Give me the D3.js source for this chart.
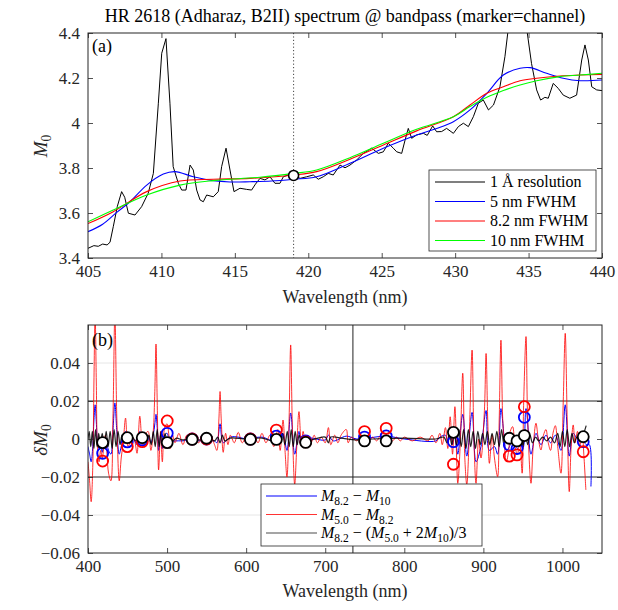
<!DOCTYPE html>
<html><head><meta charset="utf-8">
<script src="https://cdn.jsdelivr.net/npm/d3@7"></script>
<style>body{margin:0;background:#fff}</style></head>
<body><svg id="c" width="618" height="610"></svg>
<script>
// ---------- DATA: panel (a) ----------
const specRaw = [[405.0,3.443],[405.4,3.455],[405.7,3.452],[406.0,3.462],[406.3,3.458],[406.5,3.47],[406.72,3.539],[407.0,3.63],[407.29,3.695],[407.5,3.67],[407.75,3.599],[408.2,3.591],[408.65,3.628],[409.1,3.688],[409.45,3.776],[409.79,4.088],[410.02,4.31],[410.31,4.375],[410.58,4.088],[410.8,3.806],[411.15,3.732],[411.38,3.702],[411.67,3.702],[411.95,3.813],[412.17,3.791],[412.4,3.702],[412.63,3.658],[412.85,3.65],[413.08,3.68],[413.53,3.672],[413.87,3.695],[414.1,3.806],[414.4,3.888],[414.67,3.791],[414.94,3.695],[415.35,3.71],[415.8,3.705],[416.14,3.702],[416.4,3.728],[416.71,3.754],[417.05,3.747],[417.39,3.761],[417.73,3.732],[418.07,3.732],[418.3,3.761],[418.64,3.769],[418.98,3.769],[419.44,3.754],[419.89,3.761],[420.34,3.769],[420.68,3.75],[421.02,3.761],[421.36,3.776],[421.7,3.769],[422.16,3.813],[422.5,3.801],[422.84,3.813],[423.3,3.836],[423.75,3.865],[424.32,3.888],[424.77,3.865],[425.11,3.872],[425.45,3.91],[425.79,3.888],[426.02,3.872],[426.36,3.865],[426.59,3.924],[426.81,3.976],[427.04,3.932],[427.38,3.947],[427.84,3.954],[428.1,3.945],[428.47,3.987],[428.74,3.961],[429.08,3.962],[429.42,3.976],[429.88,3.954],[430.22,3.984],[430.56,3.999],[430.9,3.984],[431.24,4.028],[431.58,4.088],[431.92,4.102],[432.27,4.058],[432.61,4.08],[433.05,4.161],[433.39,4.295],[433.62,4.42],[434.2,4.62],[434.87,4.42],[435.2,4.265],[435.55,4.147],[435.82,4.102],[436.11,4.114],[436.34,4.11],[436.68,4.176],[437.02,4.154],[437.36,4.124],[437.81,4.11],[438.27,4.124],[438.62,4.28],[438.84,4.347],[439.07,4.28],[439.3,4.161],[439.64,4.147],[440.0,4.144]];
const fwhm5 = [[405,3.517],[406,3.55],[407,3.605],[407.86,3.65],[409.0,3.724],[410.13,3.773],[410.93,3.784],[412.17,3.761],[413.53,3.744],[414.67,3.738],[416.03,3.739],[417.5,3.742],[419,3.75],[420.57,3.761],[422.84,3.821],[425.11,3.888],[427.38,3.947],[428.74,3.976],[429.88,4.006],[431.01,4.058],[432.16,4.132],[433.28,4.213],[434.42,4.243],[435.1,4.246],[436.23,4.221],[437.36,4.199],[438.5,4.188],[440,4.191]];
const fwhm82 = [[405,3.553],[406.72,3.606],[409.0,3.695],[411.26,3.742],[413.53,3.75],[416.03,3.754],[419,3.769],[420.57,3.784],[422.84,3.839],[425.11,3.902],[427.38,3.965],[429.88,4.028],[431.01,4.08],[432.16,4.132],[433.28,4.161],[434.42,4.188],[435.55,4.199],[437.13,4.209],[438.5,4.213],[440,4.216]];
const fwhm10 = [[405,3.561],[406.72,3.613],[409,3.68],[411.26,3.724],[413.53,3.744],[416.71,3.759],[419,3.776],[420.57,3.791],[422.84,3.846],[425.11,3.91],[427.38,3.972],[429.88,4.028],[431.01,4.073],[432.16,4.114],[433.28,4.144],[434.42,4.169],[435.55,4.188],[437.13,4.206],[438.5,4.213],[440,4.221]];
const markerA = [[419,3.767]];
const legendA = ["1 Å resolution","5 nm FWHM","8.2 nm FWHM","10 nm FWHM"];
const colorsA = ["#000000","#0000ff","#ff0000","#00ff00"];
const xTicksA = [405,410,415,420,425,430,435,440];
const yTicksA = [3.4,3.6,3.8,4.0,4.2,4.4];

// ---------- DATA: panel (b) ----------
const redDiff = [[400,-0.012],[402,-0.022],[404,-0.033],[406,-0.015],[407.5,0.03],[409,0.066],[410.5,0.03],[412,-0.005],[414,-0.012],[416,-0.006],[418,-0.01],[420,-0.004],[422,0.002],[424,-0.008],[426,-0.018],[429,-0.022],[431.5,0.01],[434,0.066],[436.5,0.01],[439.5,-0.022],[442,-0.01],[444.5,-0.002],[447.5,0.011],[450.5,-0.004],[453,-0.002],[456,0.001],[459,-0.001],[462,-0.0075],[465.5,0.012],[469,-0.004],[472,0.002],[476,0.004],[479.5,-0.006],[482.5,0.004],[484.5,0.025],[486,0.05],[487.5,0.02],[489.3,-0.0163],[491.8,0.004],[494,-0.012],[497,0.006],[500,0.008],[502,0.003],[504,-0.005],[507,0.002],[510,-0.002],[515,0.003],[520,-0.003],[525,0.002],[530,-0.001],[535,0.002],[540,-0.002],[545,0.002],[550,-0.001],[555,0.002],[560,-0.003],[563,-0.006],[565.5,0.01],[567,0.025],[568.5,0.01],[571,-0.007],[574,0.003],[577,-0.003],[580,0.002],[585,-0.002],[590,0.0035],[595,-0.002],[600,0.001],[605,-0.001],[610,0.002],[615,-0.002],[620,0.003],[625,-0.002],[630,0.002],[635,-0.004],[640,0.005],[643,-0.006],[646.6,0.01],[649,-0.005],[651.6,-0.02],[654,0.005],[656.3,0.0495],[658.5,0.005],[661.4,-0.024],[664,-0.004],[666.8,0.0144],[669.8,-0.0035],[672,0.004],[675,-0.002],[678,0.002],[682,-0.002],[686,0.002],[690,-0.002],[695,0.001],[700,-0.002],[704,0.006],[707,-0.003],[712,0.002],[716,-0.002],[720,0.002],[726.6,0.005],[729,-0.002],[733,0.001],[740,-0.001],[745,0.002],[750,0.001],[755,-0.001],[760,0.001],[765,-0.001],[770,0.002],[775,0.003],[780,0.001],[785,-0.001],[790,0.001],[795,-0.001],[800,0.001],[810,-0.001],[820,0.001],[830,-0.001],[835,0.002],[840,-0.002],[845,0.003],[848,-0.003],[852,0.006],[855,-0.005],[858,0.0117],[861,-0.008],[864,0.017],[867.6,-0.0233],[870.5,-0.005],[873.9,0.0346],[876.5,-0.01],[879,-0.024],[882,0.0],[885.7,0.0468],[888,0.0],[890.7,-0.0233],[894,0.0],[897,-0.01],[901.3,0.015],[903.4,0.045],[905.5,0.01],[907.6,-0.0128],[911,0.002],[914,-0.01],[918,-0.0198],[920,0.01],[922.2,0.052],[924.5,0.01],[926.5,-0.0023],[929,-0.012],[932,-0.006],[934,0.004],[937,0.0065],[940,-0.004],[943,-0.008],[946,-0.002],[949,-0.018],[951,0.02],[953.9,0.0539],[956,0.01],[960.2,-0.0233],[963,-0.004],[966.5,0.0083],[969.5,0.0],[972.8,-0.0058],[976,0.002],[979.1,0.005],[982,-0.002],[985,-0.006],[988,0.003],[991,0.007],[994,-0.004],[998.1,-0.018],[1001,0.02],[1003.5,0.0556],[1006,0.01],[1008.6,-0.0277],[1011,-0.004],[1013.6,0.0074],[1016,-0.002],[1019,0.004],[1022,-0.004],[1025,0.003],[1027,-0.008],[1029.6,-0.0268]];
const blueDiff = [[400,-0.004],[402,-0.008],[404,-0.012],[406,-0.004],[407.5,0.01],[409,0.018],[410.5,0.009],[412,-0.002],[414,-0.005],[416,-0.003],[418,-0.007],[420,-0.002],[422,0.001],[424,-0.003],[426,-0.006],[429,-0.008],[431.5,0.004],[434,0.019],[436.5,0.004],[439.5,-0.008],[442,-0.004],[444.5,-0.001],[447.5,0.004],[450.5,-0.0015],[455,0.0],[459,-0.001],[462,-0.003],[465.5,0.004],[469,-0.0015],[472,0.001],[476,0.0015],[479.5,-0.002],[482.5,0.002],[484.5,0.008],[486,0.013],[487.5,0.006],[489.3,-0.006],[491.8,0.002],[494,-0.005],[497,0.002],[500,0.003],[504,-0.002],[510,-0.001],[520,-0.001],[530,0.0],[540,-0.001],[550,0.0],[560,-0.001],[563,-0.002],[567,0.008],[571,-0.002],[580,0.001],[590,0.001],[600,0.0],[620,0.001],[635,-0.001],[640,0.002],[643,-0.002],[646.6,0.003],[651.6,-0.006],[656.3,0.0137],[661.4,-0.008],[666.8,0.004],[670,-0.001],[680,0.0005],[700,-0.0005],[704,0.002],[710,-0.001],[726.6,0.0015],[740,0.0],[777,0.0015],[800,0.0],[840,-0.001],[845,0.001],[852,0.002],[855,-0.002],[858,0.004],[861,-0.003],[864,0.005],[867.6,-0.008],[873.9,0.013],[879,-0.009],[885.7,0.014],[890.7,-0.012],[897,-0.004],[903.4,0.015],[907.6,-0.006],[914,-0.004],[918,-0.008],[922.2,0.016],[926.5,0.0],[929,-0.006],[933,-0.004],[937,0.002],[943,-0.005],[949,-0.006],[953.9,0.016],[960.2,-0.008],[966.5,0.003],[972.8,-0.003],[979.1,0.002],[985,-0.002],[991,0.002],[998.1,-0.006],[1003.5,0.018],[1008.6,-0.009],[1013.6,0.003],[1019,0.0],[1025,0.0],[1030,-0.003],[1034,-0.003],[1036,-0.025]];
const blackDiff = [[400,0.0],[401.5,0.004],[403.5,-0.004],[405.5,0.004],[407.5,-0.005],[409.5,0.005],[411.5,-0.004],[413.5,0.003],[415.5,-0.003],[418,0.003],[420.5,-0.004],[423,0.004],[425.5,-0.004],[428,0.004],[430.5,-0.005],[433,0.005],[435.5,-0.004],[438,0.004],[440.5,-0.003],[443,0.002],[446,-0.002],[449,0.001],[452,-0.001],[456,0.001],[460,-0.001],[463,0.001],[466,-0.001],[470,0.001],[474,-0.001],[477,0.002],[480,-0.003],[482.5,0.004],[485,-0.004],[487.5,0.005],[490,-0.004],[492.5,0.004],[495,-0.003],[497.5,0.003],[500,-0.002],[503,0.001],[507,-0.001],[512,0.0005],[520,-0.0005],[530,0.0005],[540,-0.0005],[550,0.0005],[560,-0.001],[564,0.001],[567,-0.002],[570,0.002],[573,-0.001],[580,0.0005],[600,0.0],[620,0.0005],[635,-0.001],[640,0.002],[643,-0.002],[646,0.003],[649,-0.003],[652,0.004],[654.5,-0.004],[657,0.005],[659.5,-0.004],[662,0.004],[664.5,-0.003],[667,0.002],[670,-0.002],[673,0.001],[680,-0.0005],[700,0.001],[704,-0.002],[707,0.001],[720,0.0005],[740,-0.0005],[760,0.0],[800,0.0005],[840,0.0],[850,0.001],[854,-0.002],[857,0.003],[860,-0.003],[863,0.004],[866,-0.004],[869,0.005],[872,-0.004],[875,0.005],[878,-0.005],[881,0.005],[884,-0.004],[887,0.004],[890,-0.005],[893,0.004],[896,-0.003],[899,0.003],[902,-0.003],[905,0.004],[908,-0.003],[911,0.003],[914,-0.003],[917,0.004],[920,-0.004],[923,0.005],[926,-0.003],[929,0.002],[932,-0.002],[935,0.001],[938,-0.001],[941,0.001],[944,-0.002],[947,0.003],[950,-0.004],[953,0.005],[956,-0.003],[959,0.002],[962,-0.002],[966,0.001],[970,-0.001],[975,0.001],[980,-0.001],[985,0.001],[990,-0.002],[994,0.003],[997,-0.004],[1000,0.004],[1003,-0.004],[1006,0.005],[1009,-0.004],[1012,0.003],[1015,-0.002],[1018,0.001],[1022,-0.001],[1026,0.002],[1030,0.007]];
const channels   = [418.5,449.7,468.6,500.2,531.7,549.9,605.4,638.2,675.3,749.7,777.1,862.1,932.8,942.5,951.8,1026.3];
const chanBlue   = [-0.0075,-0.0015,-0.0005,0.003,0.0,0.0,0.0,0.0015,-0.001,0.001,0.0016,-0.0014,-0.0032,-0.005,0.0114,-0.0014];
const chanRed    = [-0.0116,-0.004,-0.0014,0.0095,0.0,0.0,0.0,0.0047,-0.0015,0.0039,0.0056,-0.0133,-0.009,-0.0084,0.017,-0.0067];
const chanBlack  = [-0.0019,0.0007,0.0007,-0.0019,-0.0002,0.0004,-0.0002,-0.0002,-0.0018,-0.001,-0.001,0.0035,0.0004,-0.001,0.0018,0.0012];
const xTicksB = [400,500,600,700,800,900,1000];
const yTicksB = [-0.06,-0.04,-0.02,0,0.02,0.04];
const refLineB = 735;

const svg = d3.select("#c");
const axisCol = "#262626";
const FONT = "Liberation Serif";
const FS = 17;

function mathText(sel, parts){
  let shift = 0;
  parts.forEach(([t,k])=>{
    const ts = sel.append("tspan").text(t);
    if(k.includes("i")) ts.attr("font-style","italic");
    if(k.includes("s")){ ts.attr("font-size","0.72em"); if(shift===0){ts.attr("dy",4); shift=4;} }
    else if(shift){ ts.attr("dy",-shift); shift=0; }
  });
}
function clip(g, x, y, id){
  const [x0,x1]=x.range(), [y0,y1]=y.range();
  g.append("defs").append("clipPath").attr("id",id).append("rect")
    .attr("x",x0).attr("y",y1).attr("width",x1-x0).attr("height",y0-y1);
}
function axes(g, x, y, xt, yt, yfmt){
  const [x0,x1]=x.range(), [y0,y1]=y.range();
  const ax = g.append("g").attr("transform",`translate(0,${y0})`)
    .call(d3.axisBottom(x).tickValues(xt).tickSizeInner(-5).tickSizeOuter(0).tickPadding(7).tickFormat(d3.format("d")));
  const axt = g.append("g").attr("transform",`translate(0,${y1})`)
    .call(d3.axisTop(x).tickValues(xt).tickSizeInner(-5).tickSizeOuter(0).tickFormat(""));
  const ay = g.append("g").attr("transform",`translate(${x0},0)`)
    .call(d3.axisLeft(y).tickValues(yt).tickSizeInner(-5).tickSizeOuter(0).tickPadding(8).tickFormat(yfmt));
  const ayr = g.append("g").attr("transform",`translate(${x1},0)`)
    .call(d3.axisRight(y).tickValues(yt).tickSizeInner(-5).tickSizeOuter(0).tickFormat(""));
  [ax,axt,ay,ayr].forEach(a=>{
    a.attr("font-family",FONT).attr("font-size",FS);
    a.select(".domain").remove();
    a.selectAll("line").attr("stroke",axisCol).attr("stroke-width",0.8);
    a.selectAll("text").attr("fill",axisCol).attr("font-family",FONT).attr("font-size",FS);
  });
  g.append("rect").attr("x",x0).attr("y",y1).attr("width",x1-x0).attr("height",y0-y1)
    .attr("fill","none").attr("stroke",axisCol).attr("stroke-width",1);
}

// ---------- Title ----------
svg.append("text").attr("x",345).attr("y",22).attr("text-anchor","middle")
  .attr("font-size",18).attr("fill","#000").text("HR 2618 (Adharaz, B2II) spectrum @ bandpass (marker=channel)");

// ---------- Panel (a) ----------
const xA = d3.scaleLinear().domain([405,440]).range([88,602]);
const yA = d3.scaleLinear().domain([3.4,4.4]).range([258,33]);
const gA = svg.append("g");
clip(gA,xA,yA,"clipA");
gA.append("line").attr("x1",xA(419)).attr("x2",xA(419)).attr("y1",yA(4.4)).attr("y2",yA(3.4))
  .attr("stroke","#444").attr("stroke-width",1).attr("stroke-dasharray","1.2,2.2");
const lineA = d3.line().x(d=>xA(d[0])).y(d=>yA(d[1]));
const lineAs = d3.line().x(d=>xA(d[0])).y(d=>yA(d[1])).curve(d3.curveCatmullRom);
const plotA = gA.append("g").attr("clip-path","url(#clipA)");
plotA.append("path").datum(specRaw).attr("d",lineA).attr("fill","none").attr("stroke","#000").attr("stroke-width",1);
[[fwhm5,colorsA[1]],[fwhm82,colorsA[2]],[fwhm10,colorsA[3]]].forEach(([d,c])=>{
  plotA.append("path").datum(d).attr("d",lineAs).attr("fill","none").attr("stroke",c).attr("stroke-width",1.1);
});
plotA.selectAll("circle.m").data(markerA).join("circle").attr("cx",d=>xA(d[0])).attr("cy",d=>yA(d[1]))
  .attr("r",5).attr("fill","#fff").attr("stroke","#000").attr("stroke-width",1.6);
axes(gA,xA,yA,xTicksA,yTicksA,d=>d3.format("~g")(d));
gA.append("text").attr("x",92).attr("y",52).attr("font-size",18).attr("fill","#000").text("(a)");
const lgA = gA.append("g").attr("transform","translate(429,170)");
lgA.append("rect").attr("width",167).attr("height",81).attr("fill","#fff").attr("stroke",axisCol).attr("stroke-width",0.8);
legendA.forEach((t,i)=>{
  const yy = 12 + i*19.5;
  lgA.append("line").attr("x1",6).attr("x2",56).attr("y1",yy).attr("y2",yy).attr("stroke",colorsA[i]).attr("stroke-width",1.1);
  lgA.append("text").attr("x",61).attr("y",yy+5).attr("font-size",16).attr("fill","#000").text(t);
});
svg.append("text").attr("x",345).attr("y",303).attr("text-anchor","middle").attr("font-size",18).attr("fill",axisCol).text("Wavelength (nm)");
const ylA = svg.append("text").attr("transform","translate(47,146) rotate(-90)").attr("text-anchor","middle").attr("font-size",19).attr("fill",axisCol);
mathText(ylA,[["M","i"],["0","s"]]);

// ---------- Panel (b) ----------
const xB = d3.scaleLinear().domain([400,1050]).range([88,602]);
const yB = d3.scaleLinear().domain([-0.06,0.06]).range([553,325]);
const gB = svg.append("g");
clip(gB,xB,yB,"clipB");
[0.04,-0.04].forEach(v=>gB.append("line").attr("x1",88).attr("x2",602).attr("y1",yB(v)).attr("y2",yB(v)).attr("stroke","#e6e6e6").attr("stroke-width",1));
[0.02,-0.02].forEach(v=>gB.append("line").attr("x1",88).attr("x2",602).attr("y1",yB(v)).attr("y2",yB(v)).attr("stroke","#222").attr("stroke-width",1));
gB.append("line").attr("x1",xB(refLineB)).attr("x2",xB(refLineB)).attr("y1",yB(0.06)).attr("y2",yB(-0.06)).attr("stroke","#222").attr("stroke-width",1);
const lineB = d3.line().x(d=>xB(d[0])).y(d=>yB(d[1])).curve(d3.curveCatmullRom);
const plotB = gB.append("g").attr("clip-path","url(#clipB)");
plotB.append("path").datum(blueDiff).attr("d",lineB).attr("fill","none").attr("stroke","#0000ff").attr("stroke-width",1);
plotB.append("path").datum(redDiff).attr("d",lineB).attr("fill","none").attr("stroke","#ff0000").attr("stroke-opacity",0.8).attr("stroke-width",1);
plotB.append("path").datum(blackDiff).attr("d",lineB).attr("fill","none").attr("stroke","#000").attr("stroke-opacity",0.85).attr("stroke-width",1.2);
[[chanBlue,"#0000ff","none"],[chanRed,"#ff0000","none"],[chanBlack,"#000","#fff"]].forEach(([vals,c,f])=>{
  plotB.append("g").selectAll("circle").data(channels.map((w,i)=>[w,vals[i]])).join("circle")
    .attr("cx",d=>xB(d[0])).attr("cy",d=>yB(d[1])).attr("r",5.5).attr("fill",f).attr("stroke",c).attr("stroke-width",1.8);
});
axes(gB,xB,yB,xTicksB,yTicksB,d=>d===0?"0":d3.format(".2f")(d));
gB.append("text").attr("x",92).attr("y",346).attr("font-size",18).attr("fill","#000").text("(b)");
const lgB = gB.append("g").attr("transform","translate(261,484)");
lgB.append("rect").attr("width",221).attr("height",62).attr("fill","#fff").attr("stroke",axisCol).attr("stroke-width",0.8);
const legB = [
  {c:"#0000ff", o:1, parts:[["M","i"],["8.2","s"],[" − ",""],["M","i"],["10","s"]]},
  {c:"#ff0000", o:0.8, parts:[["M","i"],["5.0","s"],[" − ",""],["M","i"],["8.2","s"]]},
  {c:"#000", o:0.7, parts:[["M","i"],["8.2","s"],[" − (",""],["M","i"],["5.0","s"],[" + 2",""],["M","i"],["10","s"],[")/3",""]]}
];
legB.forEach((e,i)=>{
  const yy = 12 + i*18.5;
  lgB.append("line").attr("x1",5).attr("x2",56).attr("y1",yy).attr("y2",yy).attr("stroke",e.c).attr("stroke-opacity",e.o).attr("stroke-width",1.2);
  const t = lgB.append("text").attr("x",60).attr("y",yy+5).attr("font-size",16).attr("fill","#000");
  mathText(t,e.parts);
});
svg.append("text").attr("x",345).attr("y",597).attr("text-anchor","middle").attr("font-size",18).attr("fill",axisCol).text("Wavelength (nm)");
const ylB = svg.append("text").attr("transform","translate(47,440) rotate(-90)").attr("text-anchor","middle").attr("font-size",19).attr("fill",axisCol);
mathText(ylB,[["δ","i"],["M","i"],["0","s"]]);

svg.selectAll("text").attr("font-family",FONT);
</script></body></html>
